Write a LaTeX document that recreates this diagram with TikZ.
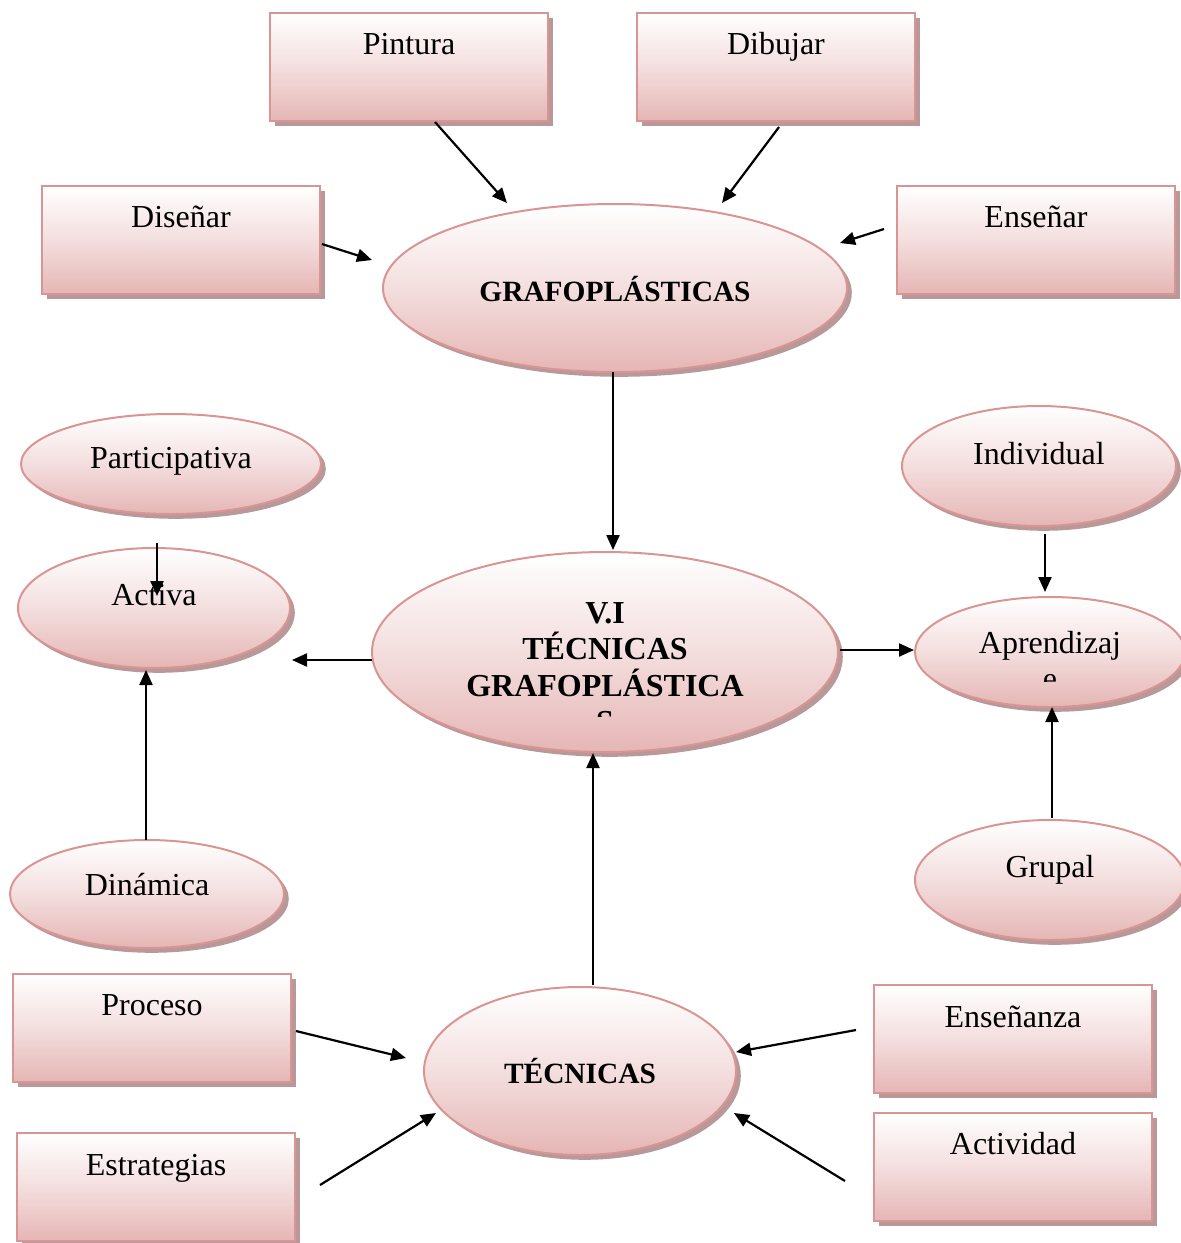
\documentclass[tikz,border=0pt]{standalone}
\usepackage{fontspec}
\setmainfont{Liberation Serif}
\usetikzlibrary{shapes.geometric,shadows,arrows.meta}
\definecolor{pinkbot}{RGB}{229,182,181}
\definecolor{pinkline}{RGB}{217,149,148}
\definecolor{shadowc}{RGB}{160,118,118}
\tikzset{
  fillstyle/.style={top color=white, bottom color=pinkbot, middle color={pinkbot!45!white}, draw=pinkline, line width=1pt,
    drop shadow={shadow xshift=2.4pt, shadow yshift=-2.4pt, fill=shadowc, opacity=0.75}},
  box/.style={fillstyle, rectangle, minimum width=139pt, minimum height=54pt, inner sep=0pt},
  oval/.style={fillstyle, ellipse, inner sep=0pt},
  txt/.style={inner sep=0pt, anchor=base, font=\fontsize{16}{18}\selectfont},
  btxt/.style={inner sep=0pt, anchor=base, font=\fontsize{14.7}{17}\selectfont\bfseries},
  arr/.style={-{Triangle[length=7.5pt,width=6.5pt]}, line width=1.1pt}
}
\begin{document}
\begin{tikzpicture}[x=0.5pt,y=-0.5pt]
\useasboundingbox (0,0) rectangle (1181,1243);
\clip (0,0) rectangle (1181,1243);
% boxes
\node[box] (pintura) at (409,67) {};
\node[txt] (pintura-t) at (409,54) {Pintura};
\node[box] (dibujar) at (776,67) {};
\node[txt] (dibujar-t) at (776,54) {Dibujar};
\node[box] (disenar) at (181,240) {};
\node[txt] (disenar-t) at (181,227) {Diseñar};
\node[box] (ensenar) at (1036,240) {};
\node[txt] (ensenar-t) at (1036,227) {Enseñar};
\node[box] (proceso) at (152,1028) {};
\node[txt] (proceso-t) at (152,1015) {Proceso};
\node[box] (estrat) at (156,1187) {};
\node[txt] (estrat-t) at (156,1175) {Estrategias};
\node[box] (ensenanza) at (1013,1039) {};
\node[txt] (ensenanza-t) at (1013,1027) {Enseñanza};
\node[box] (actividad) at (1013,1167) {};
\node[txt] (actividad-t) at (1013,1154) {Actividad};
% ellipses
\node[oval, minimum width=232pt, minimum height=84pt] (grafo) at (615,288) {};
\node[btxt] (grafo-t) at (615,301) {GRAFOPLÁSTICAS};
\node[oval, minimum width=150pt, minimum height=50pt] (partic) at (171,464) {};
\node[txt] (partic-t) at (171,468) {Participativa};
\node[oval, minimum width=136pt, minimum height=60pt] (activa) at (154,608) {};
\node[txt] (activa-t) at (154,605) {Activa};
\node[oval, minimum width=233pt, minimum height=100pt] (vi) at (605,652) {};
\begin{scope}
\clip (400,590) rectangle (820,716);
\node[inner sep=0pt, font=\fontsize{16}{18.25}\selectfont\bfseries, align=center, anchor=north] (vi-t) at (605,602) {V.I\\TÉCNICAS\\GRAFOPLÁSTICA\\S};
\end{scope}
\node[oval, minimum width=137pt, minimum height=60pt] (indiv) at (1039,466) {};
\node[txt] (indiv-t) at (1039,464) {Individual};
\node[oval, minimum width=135pt, minimum height=55pt] (aprend) at (1050,652) {};
\begin{scope}
\clip (930,620) rectangle (1181,681);
\node[inner sep=0pt, font=\fontsize{16}{18}\selectfont, align=center, anchor=north] (aprend-t) at (1050,631) {Aprendizaj\\e};
\end{scope}
\node[oval, minimum width=137pt, minimum height=54pt] (dinam) at (147,894) {};
\node[txt] (dinam-t) at (147,895) {Dinámica};
\node[oval, minimum width=135pt, minimum height=60pt] (grupal) at (1050,880) {};
\node[txt] (grupal-t) at (1050,877) {Grupal};
\node[oval, minimum width=156pt, minimum height=84pt] (tecn) at (580,1071) {};
\node[btxt] (tecn-t) at (580,1083) {TÉCNICAS};
% arrow ends
\coordinate (p1) at (435,122); \coordinate (p2) at (507,203);
\coordinate (d1) at (779,127); \coordinate (d2) at (722,203);
\coordinate (s1) at (322,244); \coordinate (s2) at (372,260);
\coordinate (e1) at (884,229); \coordinate (e2) at (840,243);
\coordinate (g1) at (613,372); \coordinate (g2) at (613,550);
\coordinate (pa1) at (157,543); \coordinate (pa2) at (157,596);
\coordinate (di1) at (146,840); \coordinate (di2) at (146,670);
\coordinate (va1) at (372,660); \coordinate (va2) at (292,660);
\coordinate (vp1) at (840,650); \coordinate (vp2) at (914,650);
\coordinate (in1) at (1045,534); \coordinate (in2) at (1045,592);
\coordinate (gr1) at (1052,818); \coordinate (gr2) at (1052,707);
\coordinate (t1) at (593,985); \coordinate (t2) at (593,753);
\coordinate (pr1) at (296,1031); \coordinate (pr2) at (406,1058);
\coordinate (es1) at (320,1185); \coordinate (es2) at (436,1113);
\coordinate (en1) at (856,1030); \coordinate (en2) at (736,1052);
\coordinate (ac1) at (845,1181); \coordinate (ac2) at (734,1113);
\draw[arr] (p1) -- (p2);
\draw[arr] (d1) -- (d2);
\draw[arr] (s1) -- (s2);
\draw[arr] (e1) -- (e2);
\draw[arr] (g1) -- (g2);
\draw[arr] (pa1) -- (pa2);
\draw[arr] (di1) -- (di2);
\draw[arr] (va1) -- (va2);
\draw[arr] (vp1) -- (vp2);
\draw[arr] (in1) -- (in2);
\draw[arr] (gr1) -- (gr2);
\draw[arr] (t1) -- (t2);
\draw[arr] (pr1) -- (pr2);
\draw[arr] (es1) -- (es2);
\draw[arr] (en1) -- (en2);
\draw[arr] (ac1) -- (ac2);
\end{tikzpicture}
\end{document}
